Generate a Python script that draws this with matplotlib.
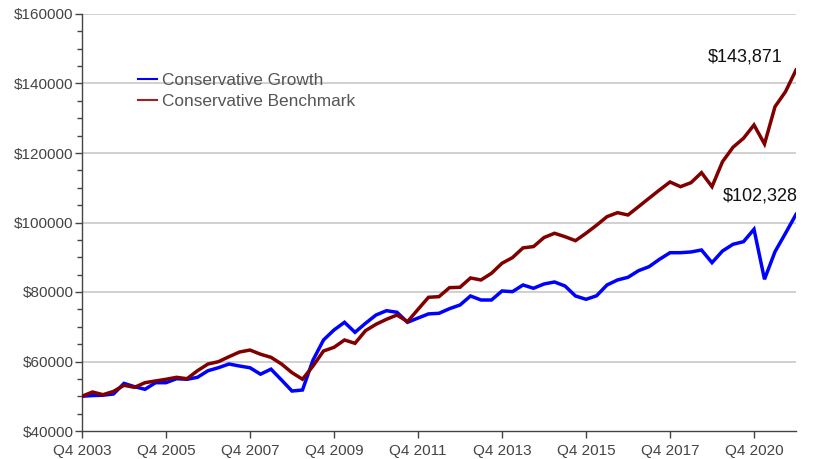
import matplotlib
matplotlib.use("Agg")
import matplotlib.pyplot as plt
from matplotlib.ticker import MultipleLocator, FuncFormatter
from matplotlib.lines import Line2D

plt.rcParams['font.family'] = ['Liberation Sans', 'DejaVu Sans']

growth = [50000, 50200, 50300, 50650, 53700, 52750, 52000, 53900, 53900, 55050,
          54880, 55450, 57350, 58220, 59280, 58700, 58200, 56350, 57800, 54680,
          51500, 51800, 60400, 66190, 69070, 71280, 68400, 70990, 73380, 74620,
          74160, 71280, 72500, 73700, 73870, 75200, 76260, 78850, 77700, 77700,
          80290, 80100, 82020, 81070, 82310, 82880, 81730, 78850, 77900, 78900,
          82020, 83460, 84230, 86130, 87280, 89410, 91310, 91310, 91520, 92090,
          88440, 91800, 93730, 94480, 98050, 83660, 91600, 96900, 102328]
benchmark = [50000, 51224, 50450, 51400, 53150, 52570, 53900, 54400, 54880, 55450,
             55050, 57350, 59280, 59950, 61380, 62730, 63300, 62100, 61200, 59280,
             56790, 54900, 58700, 63020, 64080, 66190, 65230, 68870, 70710, 72150,
             73380, 71460, 75000, 78480, 78660, 81250, 81360, 84040, 83460, 85390,
             88270, 89900, 92690, 93070, 95670, 96900, 95920, 94770, 96900, 99200,
             101680, 102830, 102160, 104550, 106970, 109360, 111660, 110310, 111460, 114340,
             110310, 117500, 121650, 124240, 128070, 122600, 133330, 137650, 143871]
tick_pos = [0, 8, 16, 24, 32, 40, 48, 56, 64]
tick_labels = ["Q4 2003", "Q4 2005", "Q4 2007", "Q4 2009", "Q4 2011",
               "Q4 2013", "Q4 2015", "Q4 2017", "Q4 2020"]
series_names = ["Conservative Growth", "Conservative Benchmark"]
end_labels = ["$102,328", "$143,871"]

fig = plt.figure(figsize=(8.14, 4.59), dpi=100)
ax = fig.add_axes([82/814, 1-431/459, (796-82)/814, (431-14)/459])

x = list(range(len(growth)))
c_blue = "#0000ff"
c_red = "#800000"
ax.plot(x, growth, color=c_blue, lw=2.5, solid_joinstyle='miter', zorder=3)
ax.plot(x, benchmark, color=c_red, lw=2.5, solid_joinstyle='miter', zorder=3)

ax.set_xlim(0, len(growth)-1)
ax.set_ylim(40000, 160000)

ax.yaxis.set_major_locator(MultipleLocator(20000))
ax.yaxis.set_minor_locator(MultipleLocator(5000))
ax.yaxis.set_major_formatter(FuncFormatter(lambda v, p: f"${int(v)}"))
ax.set_xticks(tick_pos)
ax.set_xticklabels(tick_labels)

for v in range(60000, 160001, 20000):
    ax.axhline(v, color="#c8c8c8", lw=1.2, zorder=1)

for s in ["top", "right"]:
    ax.spines[s].set_visible(False)
for s in ["left", "bottom"]:
    ax.spines[s].set_color("#444444")
    ax.spines[s].set_linewidth(1.0)

ax.tick_params(axis='both', which='major', direction='out', length=5,
               color="#444444", labelcolor="#444444", labelsize=11, width=1)
ax.tick_params(axis='y', which='minor', direction='out', length=3.5,
               color="#444444", width=1)
ax.tick_params(axis='x', pad=4)
ax.tick_params(axis='y', pad=1)

ax.annotate(end_labels[1], xy=(x[-1], benchmark[-1]), xytext=(-10, 9.5),
            textcoords='offset points', ha='right', va='center', fontsize=13, color="#111111")
ax.annotate(end_labels[0], xy=(x[-1], growth[-1]), xytext=(1.5, 13.5),
            textcoords='offset points', ha='right', va='center', fontsize=13, color="#111111")

handles = [Line2D([], [], color=c_blue, lw=1.5), Line2D([], [], color="#a02020", lw=1.5)]
leg = ax.legend(handles, series_names, loc='upper left', bbox_to_anchor=(0.069, 0.876),
                frameon=False, fontsize=12.4, handlelength=1.1, handletextpad=0.3,
                labelspacing=0.35, borderaxespad=0)
for t in leg.get_texts():
    t.set_color("#555555")

fig.savefig("out.png", dpi=100)
